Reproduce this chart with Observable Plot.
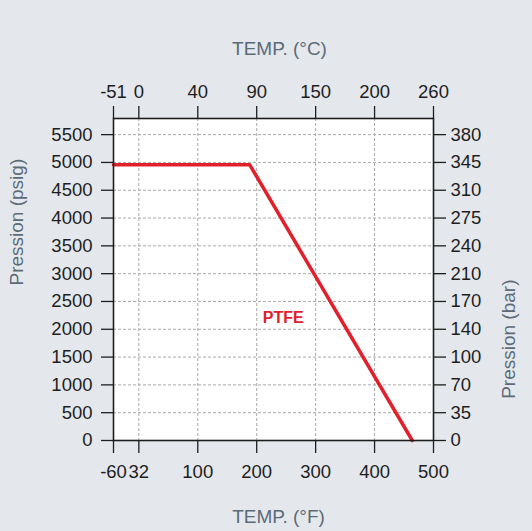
<!DOCTYPE html>
<html><head><meta charset="utf-8">
<script src="https://cdn.jsdelivr.net/npm/d3@7"></script>
<script src="https://cdn.jsdelivr.net/npm/@observablehq/plot@0.6"></script>
<style>html,body{margin:0;padding:0;background:#e4e8ec;}</style>
</head><body><div id="chart"></div>
<script>
// Data
const tempF = [-60, 188, 464];
const pressurePsig = [4960, 4960, 0];
const fTicks = [-60, 32, 100, 200, 300, 400, 500];
const cLabels = ["-51", "0", "40", "90", "150", "200", "260"];
const psigTicks = [0, 500, 1000, 1500, 2000, 2500, 3000, 3500, 4000, 4500, 5000, 5500];
const barLabels = ["0", "35", "70", "100", "140", "170", "210", "240", "275", "310", "345", "380"];
const seriesName = ["PTFE"];
const seriesLabelF = [245];
const seriesLabelPsig = [2210];

// The °F axis of the original is not uniform: 32 sits one 100°F-step left of 100,
// and -60 a short step further. Map °F to axis units piecewise.
const fToAxis = d3.scaleLinear().domain([-60, 32, 100, 500]).range([-0.43, 0, 1, 5]);
const axisTicks = fTicks.map(fToAxis);

const line = tempF.map((t, i) => ({t, p: pressurePsig[i]}));
const label = seriesName.map((s, i) => ({s, t: seriesLabelF[i], p: seriesLabelPsig[i]}));

const W = 532, H = 531;
const titleColor = "#5b6b78", ink = "#1e1e1e", red = "#e2202b";
const grid = {stroke: "#a9a9a9", strokeOpacity: 1, strokeWidth: 1, strokeDasharray: "3,2"};
const idx = (arr, v) => arr.findIndex(a => Math.abs(a - v) < 1e-9);

const chart = Plot.plot({
  width: W, height: H,
  marginLeft: 113, marginRight: 99, marginTop: 118, marginBottom: 91,
  style: {background: "#e4e8ec", fontFamily: "'Liberation Sans', Arial, Helvetica, sans-serif", fontSize: "18.5px"},
  x: {domain: [fToAxis(-60), fToAxis(500)]},
  y: {domain: [0, 5790]},
  marks: [
    Plot.frame({fill: "white", stroke: "none"}),
    Plot.gridX(axisTicks.slice(1, -1), grid),
    Plot.gridY(psigTicks.slice(1), grid),
    Plot.line(line, {x: d => fToAxis(d.t), y: "p", stroke: red, strokeWidth: 3.5}),
    Plot.text(label, {x: d => fToAxis(d.t), y: "p", text: "s", fill: red, fontWeight: "bold", fontSize: 16}),
    Plot.frame({stroke: ink, strokeWidth: 1.6}),
    Plot.axisX(axisTicks, {anchor: "bottom", tickSize: 13, tickPadding: 11, label: null, color: ink, strokeWidth: 1.3, fontSize: 18.5, tickFormat: d => String(fTicks[idx(axisTicks, d)])}),
    Plot.axisX(axisTicks, {anchor: "top", tickSize: 13, tickPadding: 8, label: null, color: ink, strokeWidth: 1.3, fontSize: 18.5, tickFormat: d => cLabels[idx(axisTicks, d)]}),
    Plot.axisY(psigTicks, {anchor: "left", tickSize: 12, tickPadding: 9, label: null, color: ink, strokeWidth: 1.3, fontSize: 18.5, tickFormat: d => String(d)}),
    Plot.axisY(psigTicks, {anchor: "right", tickSize: 12, tickPadding: 5, label: null, color: ink, strokeWidth: 1.3, fontSize: 18.5, tickFormat: d => barLabels[idx(psigTicks, d)]}),
    Plot.text(["TEMP. (°C)"], {frameAnchor: "top", dx: 6, dy: -77, fill: titleColor, fontSize: 19}),
    Plot.text(["TEMP. (°F)"], {frameAnchor: "bottom", dx: 5, dy: 82, fill: titleColor, fontSize: 19}),
    Plot.text(["Pression (psig)"], {frameAnchor: "left", dx: -97, dy: 6, rotate: -90, fill: titleColor, fontSize: 19}),
    Plot.text(["Pression (bar)"], {frameAnchor: "right", dx: 75, dy: 0, rotate: -90, fill: titleColor, fontSize: 19})
  ]
});
document.getElementById("chart").appendChild(chart);
</script>
</body></html>
